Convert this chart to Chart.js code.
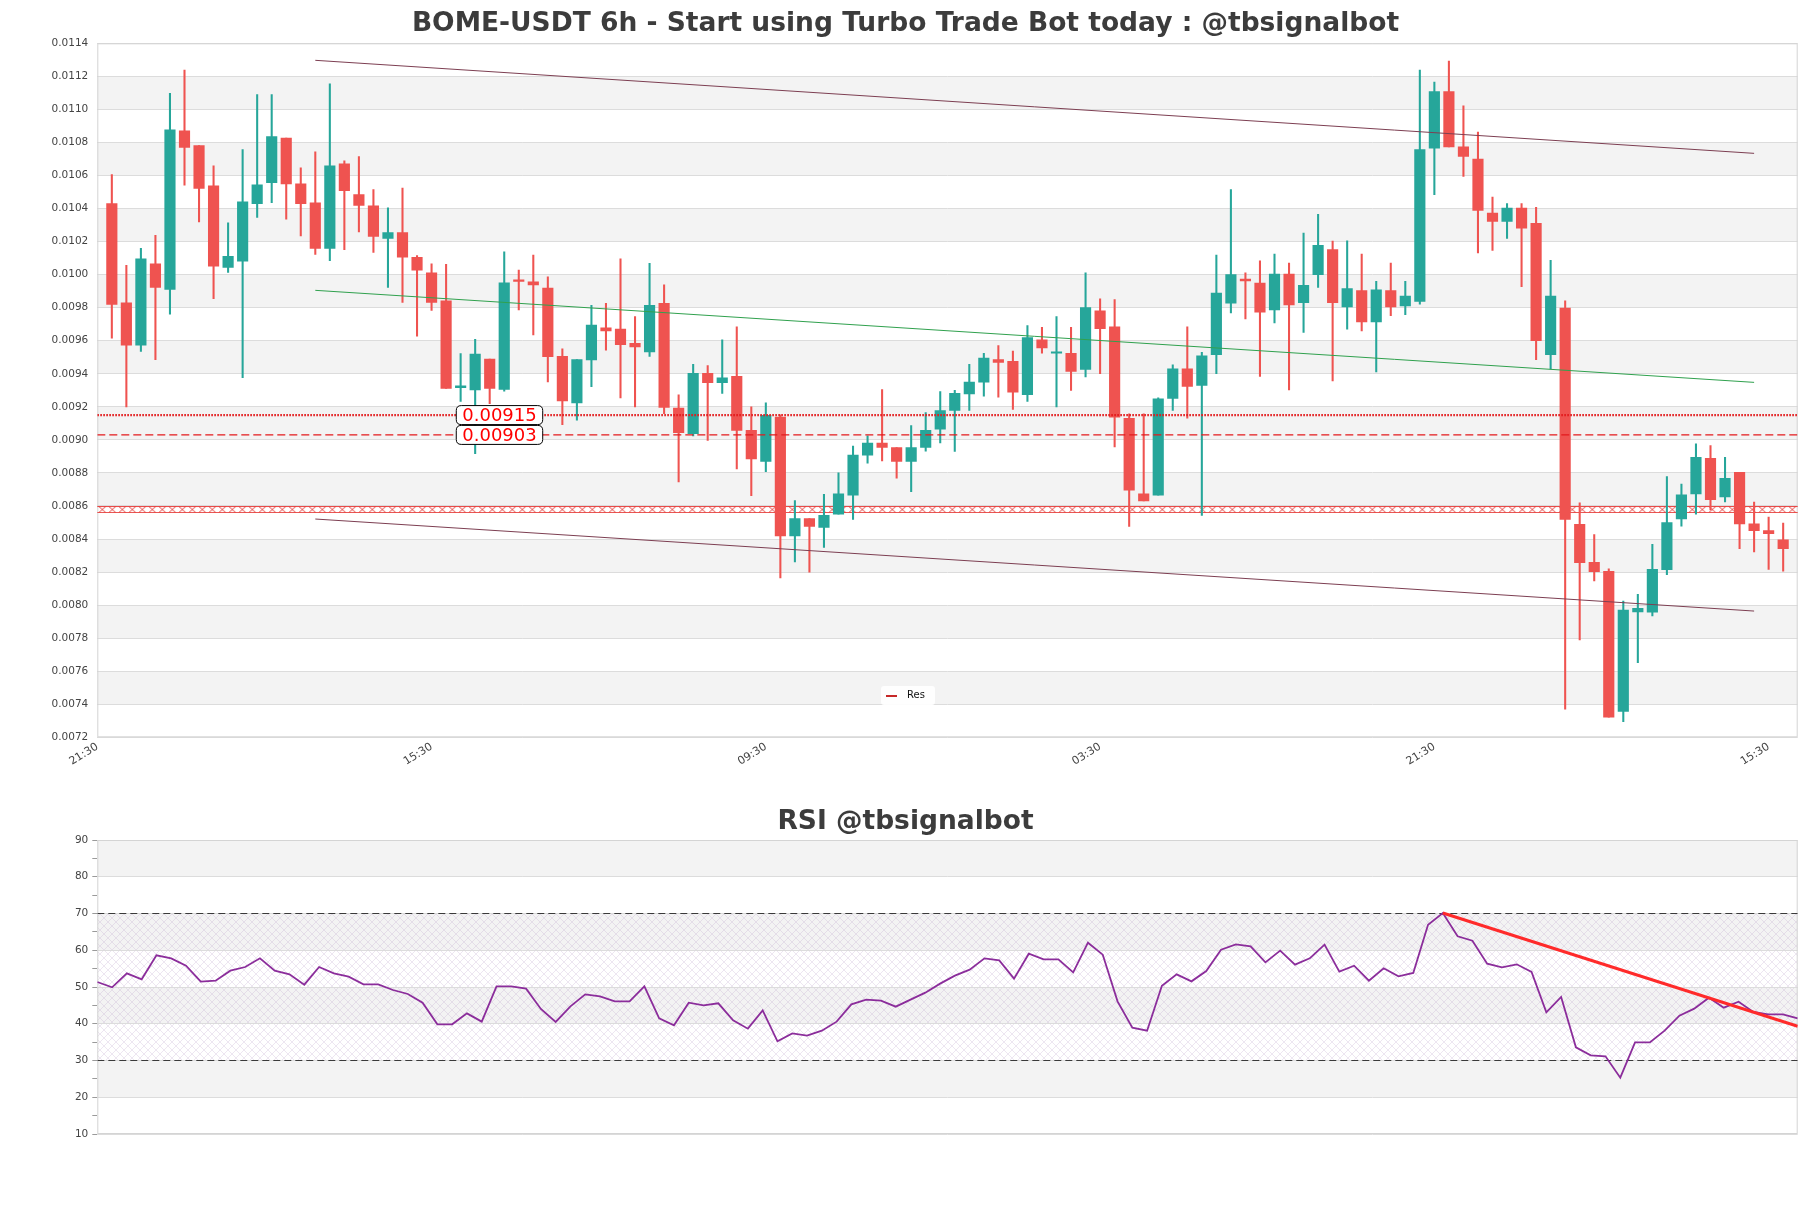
<!DOCTYPE html>
<html>
<head>
<meta charset="utf-8">
<script src="https://cdn.jsdelivr.net/npm/chart.js@4.4.1/dist/chart.umd.min.js"></script>
<style>
html,body{margin:0;padding:0;background:#ffffff;}
body{width:1811px;height:1208px;position:relative;overflow:hidden;}
#c1{position:absolute;left:0;top:0;}
#c2{position:absolute;left:0;top:790px;}
</style>
</head>
<body>
<canvas id="c1" width="1811" height="790"></canvas>
<canvas id="c2" width="1811" height="418"></canvas>
<script>
// ---------------- DATA ----------------
const chartTitle = 'BOME-USDT 6h - Start using Turbo Trade Bot today : @tbsignalbot';
const rsiTitle = 'RSI @tbsignalbot';

const xTickIdx = [-1, 22, 45, 68, 91, 114];
const xTickLabels = ['21:30', '15:30', '09:30', '03:30', '21:30', '15:30'];

const priceTicks = [0.0072,0.0074,0.0076,0.0078,0.0080,0.0082,0.0084,0.0086,0.0088,0.0090,0.0092,
  0.0094,0.0096,0.0098,0.0100,0.0102,0.0104,0.0106,0.0108,0.0110,0.0112,0.0114];
const rsiTicks = [10,15,20,25,30,35,40,45,50,55,60,65,70,75,80,85,90];

const openP = [0.010430,0.009830,0.009573,0.010065,0.009911,0.010870,0.010781,0.010538,0.010043,0.010081,
0.010430,0.010557,0.010827,0.010549,0.010435,0.010159,0.010670,0.010484,0.010416,0.010219,
0.010254,0.010105,0.010011,0.009841,0.009316,0.009303,0.009489,0.009305,0.009968,0.009957,
0.009919,0.009505,0.009224,0.009484,0.009678,0.009670,0.009584,0.009532,0.009827,0.009192,
0.009038,0.009403,0.009346,0.009384,0.009057,0.008870,0.009138,0.008419,0.008524,0.008470,
0.008551,0.008665,0.008908,0.008981,0.008954,0.008870,0.008954,0.009065,0.009178,0.009278,
0.009349,0.009486,0.009476,0.009273,0.009605,0.009524,0.009524,0.009427,0.009781,0.009684,
0.009130,0.008673,0.008665,0.009251,0.009430,0.009330,0.009516,0.009827,0.009973,0.009949,
0.009786,0.010003,0.009830,0.010000,0.010151,0.009805,0.009903,0.009714,0.009903,0.009811,
0.009838,0.010765,0.011108,0.010773,0.010700,0.010373,0.010322,0.010403,0.010311,0.009516,
0.009797,0.008489,0.008259,0.008205,0.007357,0.007959,0.007957,0.008214,0.008522,0.008673,
0.008889,0.008654,0.008803,0.008492,0.008451,0.008395];

const highP = [0.010605,0.010057,0.010159,0.010238,0.011097,0.011238,0.010781,0.010659,0.010314,0.010757,
0.011089,0.011089,0.010827,0.010646,0.010743,0.011154,0.010689,0.010714,0.010514,0.010405,
0.010524,0.010116,0.010065,0.010062,0.009522,0.009608,0.009489,0.010138,0.010027,0.010119,
0.009986,0.009551,0.009486,0.009814,0.009827,0.010095,0.009746,0.010068,0.009938,0.009273,
0.009457,0.009449,0.009605,0.009684,0.009200,0.009224,0.009151,0.008632,0.008524,0.008670,
0.008800,0.008962,0.009024,0.009305,0.008954,0.009086,0.009165,0.009292,0.009300,0.009457,
0.009524,0.009570,0.009538,0.009692,0.009681,0.009746,0.009681,0.010011,0.009854,0.009849,
0.009157,0.009157,0.009254,0.009454,0.009684,0.009530,0.010119,0.010514,0.010011,0.010084,
0.010124,0.010070,0.010251,0.010365,0.010203,0.010205,0.010124,0.009959,0.010070,0.009959,
0.011238,0.011165,0.011292,0.011022,0.010862,0.010470,0.010430,0.010430,0.010408,0.010086,
0.009841,0.008619,0.008427,0.008219,0.008024,0.008065,0.008368,0.008778,0.008732,0.008976,
0.008965,0.008895,0.008803,0.008624,0.008532,0.008497];

const lowP = [0.009616,0.009200,0.009535,0.009486,0.009760,0.010541,0.010319,0.009854,0.010014,0.009376,
0.010346,0.010435,0.010335,0.010235,0.010122,0.010084,0.010151,0.010259,0.010135,0.009922,
0.009832,0.009627,0.009784,0.009311,0.009232,0.008916,0.009219,0.009295,0.009786,0.009635,
0.009351,0.009092,0.009119,0.009322,0.009543,0.009254,0.009200,0.009505,0.009159,0.008746,
0.009024,0.008997,0.009281,0.008824,0.008662,0.008808,0.008165,0.008262,0.008200,0.008349,
0.008551,0.008519,0.008859,0.008873,0.008768,0.008686,0.008932,0.008981,0.008930,0.009178,
0.009265,0.009259,0.009184,0.009232,0.009524,0.009200,0.009300,0.009381,0.009400,0.008957,
0.008476,0.008630,0.008665,0.009178,0.009132,0.008543,0.009400,0.009768,0.009732,0.009384,
0.009708,0.009303,0.009651,0.009922,0.009357,0.009670,0.009659,0.009411,0.009751,0.009757,
0.009822,0.010484,0.010773,0.010595,0.010132,0.010146,0.010219,0.009927,0.009486,0.009430,
0.007370,0.007789,0.008146,0.007322,0.007295,0.007651,0.007935,0.008184,0.008478,0.008551,
0.008576,0.008624,0.008341,0.008322,0.008216,0.008205];

const closeP = [0.009819,0.009573,0.010095,0.009922,0.010876,0.010770,0.010522,0.010051,0.010111,0.010441,
0.010543,0.010835,0.010549,0.010430,0.010159,0.010659,0.010508,0.010419,0.010232,0.010254,
0.010105,0.010027,0.009832,0.009311,0.009327,0.009519,0.009311,0.009951,0.009959,0.009938,
0.009503,0.009235,0.009486,0.009695,0.009659,0.009576,0.009562,0.009814,0.009197,0.009043,
0.009403,0.009346,0.009376,0.009057,0.008884,0.009149,0.008419,0.008524,0.008476,0.008543,
0.008673,0.008908,0.008981,0.008954,0.008870,0.008954,0.009057,0.009178,0.009281,0.009349,
0.009495,0.009468,0.009289,0.009619,0.009557,0.009527,0.009414,0.009800,0.009673,0.009138,
0.008695,0.008630,0.009249,0.009430,0.009324,0.009508,0.009889,0.010000,0.009962,0.009773,
0.010003,0.009816,0.009935,0.010178,0.009830,0.009916,0.009714,0.009908,0.009805,0.009870,
0.010757,0.011108,0.010773,0.010716,0.010389,0.010322,0.010403,0.010281,0.009600,0.009870,
0.008519,0.008257,0.008203,0.007322,0.007970,0.007981,0.008216,0.008500,0.008668,0.008895,
0.008638,0.008768,0.008492,0.008451,0.008432,0.008341];

const rsiValues = [51.36,49.91,53.72,52.09,58.62,57.8,55.8,51.45,51.72,54.44,
55.44,57.8,54.44,53.45,50.63,55.44,53.72,52.81,50.73,50.73,
49.18,48.1,45.74,39.84,39.84,42.83,40.57,50.18,50.18,49.55,
44.01,40.48,44.74,48.0,47.46,46.1,46.1,50.18,41.47,39.57,
45.74,45.01,45.56,40.93,38.66,43.65,35.22,37.39,36.76,38.12,
40.57,45.28,46.55,46.28,44.65,46.55,48.46,50.91,53.08,54.72,
57.8,57.26,52.27,59.07,57.53,57.53,53.99,62.06,58.8,46.1,
38.93,38.12,50.36,53.45,51.54,54.35,60.16,61.6,61.07,56.71,
59.89,56.08,57.8,61.52,54.17,55.8,51.72,55.08,52.9,53.81,
66.96,70.14,63.79,62.61,56.35,55.35,56.17,54.08,43.11,47.28,
33.58,31.41,31.13,25.33,34.94,34.94,38.12,42.2,44.1,47.1,
44.38,46.01,43.2,42.56,42.56,41.47];

// channel trend lines (index of start / end candle, and price at each end)
const channelX = [14, 113];
const channelUpper = [0.011297, 0.010734];
const channelMid = [0.009905, 0.009348];
const channelLower = [0.008521, 0.007964];

// horizontal price levels
const levelSpan = [-1, 116];
const levelDotted = 0.00915;
const levelDashed = 0.00903;
const levelRes = 0.008576;

// RSI levels and trend
const rsiUpper = 70, rsiLower = 30;
const rsiSpan = [0, 115];
const rsiTrendX = [91, 115];
const rsiTrendY = [70.14, 39.3];

// ---------------- STYLE ----------------
const FONT = 'DejaVu Sans';
const UP = '#26a69a', DOWN = '#ef5350';
const TXT = '#444444';
const GRID = '#dcdcdc';
const BAND = '#f3f3f3';

const idx = openP.map((_, i) => i);
const candleColors = idx.map(i => closeP[i] >= openP[i] ? UP : DOWN);

function makeXPattern(ctx) {
  const c = document.createElement('canvas');
  c.width = 10; c.height = 7;
  const g = c.getContext('2d');
  g.strokeStyle = '#e53935'; g.lineWidth = 0.9;
  g.beginPath();
  g.moveTo(0, 0.5); g.lineTo(10, 0.5);
  g.moveTo(0, 6.5); g.lineTo(10, 6.5);
  g.moveTo(1.5, 0.5); g.lineTo(8.5, 6.5);
  g.moveTo(1.5, 6.5); g.lineTo(8.5, 0.5);
  g.stroke();
  return ctx.createPattern(c, 'repeat');
}
function makeHatch(ctx) {
  const c = document.createElement('canvas');
  c.width = 8; c.height = 8;
  const g = c.getContext('2d');
  g.strokeStyle = 'rgba(185,160,200,0.26)'; g.lineWidth = 1;
  g.beginPath();
  g.moveTo(0, 0); g.lineTo(8, 8);
  g.moveTo(8, 0); g.lineTo(0, 8);
  g.stroke();
  return ctx.createPattern(c, 'repeat');
}

function roundRect(ctx, x, y, w, h, r) {
  ctx.beginPath();
  ctx.moveTo(x + r, y);
  ctx.lineTo(x + w - r, y); ctx.quadraticCurveTo(x + w, y, x + w, y + r);
  ctx.lineTo(x + w, y + h - r); ctx.quadraticCurveTo(x + w, y + h, x + w - r, y + h);
  ctx.lineTo(x + r, y + h); ctx.quadraticCurveTo(x, y + h, x, y + h - r);
  ctx.lineTo(x, y + r); ctx.quadraticCurveTo(x, y, x + r, y);
  ctx.closePath();
}

// ---------------- PRICE CHART ----------------
const pricePlugin = {
  id: 'pricePlugin',
  beforeDraw(chart) {
    const { ctx, chartArea: a, scales: { y } } = chart;
    ctx.save();
    ctx.fillStyle = '#ffffff';
    ctx.fillRect(0, 0, chart.width, chart.height);
    ctx.fillStyle = BAND;
    for (let k = 0; k < priceTicks.length - 1; k++) {
      if (k % 2 === 1) {
        const y1 = y.getPixelForValue(priceTicks[k + 1]);
        const y0 = y.getPixelForValue(priceTicks[k]);
        ctx.fillRect(a.left, y1, a.right - a.left, y0 - y1);
      }
    }
    ctx.restore();
  },
  beforeDatasetsDraw(chart) {
    const { ctx, chartArea: a } = chart;
    ctx.save();
    ctx.strokeStyle = '#d4d4d4'; ctx.lineWidth = 1;
    ctx.strokeRect(a.left + 0.5, a.top + 0.5, a.right - a.left - 1, a.bottom - a.top - 1);
    // X-hatched resistance band
    const { x, y } = chart.scales;
    const yp = y.getPixelForValue(levelRes);
    const xl = x.getPixelForValue(levelSpan[0]), xr = x.getPixelForValue(levelSpan[1]);
    const pat = makeXPattern(ctx);
    ctx.translate(xl, Math.round(yp - 3.5));
    ctx.fillStyle = pat;
    ctx.fillRect(0, 0, xr - xl, 7);
    ctx.restore();
  },
  afterDatasetsDraw(chart) {
    const { ctx, scales: { x, y } } = chart;
    ctx.save();
    ctx.font = '18px "' + FONT + '"';
    ctx.textBaseline = 'middle';
    [levelDotted, levelDashed].forEach(v => {
      const txt = v.toFixed(5);
      const w = ctx.measureText(txt).width + 12;
      const h = 19;
      const xl = x.getPixelForValue(23.7);
      const yc = y.getPixelForValue(v);
      roundRect(ctx, xl, yc - h / 2, w, h, 5);
      ctx.fillStyle = '#ffffff'; ctx.fill();
      ctx.strokeStyle = '#000000'; ctx.lineWidth = 1; ctx.stroke();
      ctx.fillStyle = '#ff0000';
      ctx.fillText(txt, xl + 6, yc + 1);
    });
    // legend "Res"
    const lx = 881, ly = 686;
    roundRect(ctx, lx, ly, 54, 19, 3);
    ctx.fillStyle = 'rgba(255,255,255,0.9)'; ctx.fill();
    ctx.strokeStyle = '#c62828'; ctx.lineWidth = 2;
    ctx.beginPath(); ctx.moveTo(lx + 5, ly + 10); ctx.lineTo(lx + 16, ly + 10); ctx.stroke();
    ctx.fillStyle = '#111111';
    ctx.font = '10px "' + FONT + '"';
    ctx.fillText('Res', lx + 26, ly + 9.5);
    ctx.restore();
  }
};

const lineDs = (xs, ys, color, width, dash, order) => ({
  type: 'line',
  data: xs.map((xv, k) => ({ x: xv, y: ys[k] })),
  borderColor: color, borderWidth: width, borderDash: dash || [],
  pointRadius: 0, fill: false, tension: 0, order: order
});

new Chart(document.getElementById('c1'), {
  type: 'bar',
  data: {
    datasets: [
      { type: 'bar', label: 'wick', data: idx.map(i => ({ x: i, y: [lowP[i], highP[i]] })),
        backgroundColor: candleColors, barThickness: 1.4, grouped: false, borderWidth: 0, order: 6 },
      { type: 'bar', label: 'body', data: idx.map(i => ({ x: i, y: [openP[i], closeP[i]] })),
        backgroundColor: candleColors, barThickness: 10.5, minBarLength: 1.5, grouped: false, borderWidth: 0, order: 5 },
      lineDs(levelSpan, [levelDotted, levelDotted], '#e31a1c', 2.4, [1.6, 1.4], 4),
      lineDs(levelSpan, [levelDashed, levelDashed], '#e31a1c', 1.2, [8, 4], 4),
      lineDs(channelX, channelUpper, '#7d3f52', 1, null, 3),
      lineDs(channelX, channelLower, '#7d3f52', 1, null, 3),
      lineDs(channelX, channelMid, '#30a14e', 1, null, 3)
    ]
  },
  options: {
    responsive: false, animation: false, devicePixelRatio: 1,
    layout: { padding: { left: 13.3, right: 13.3, top: 0, bottom: 0 } },
    plugins: {
      legend: { display: false }, tooltip: { enabled: false },
      title: { display: true, text: chartTitle, color: '#3c3c3c',
        font: { family: FONT, size: 26.5, weight: 'bold', lineHeight: 1.2 },
        padding: { top: 8, bottom: 3.5 } }
    },
    scales: {
      x: {
        type: 'linear', min: -1, max: 116, offset: false,
        grid: { display: false, drawTicks: false }, border: { display: false },
        afterBuildTicks: s => { s.ticks = xTickIdx.map(v => ({ value: v })); },
        afterFit: s => { s.height = 52.7; },
        ticks: { autoSkip: false, minRotation: 32, maxRotation: 32, padding: 3, color: TXT,
          font: { family: FONT, size: 11 },
          callback: (v, i) => xTickLabels[i] }
      },
      y: {
        type: 'linear', min: 0.0072, max: 0.0114,
        grid: { color: GRID, drawTicks: false, lineWidth: 1 }, border: { display: false },
        afterBuildTicks: s => { s.ticks = priceTicks.map(v => ({ value: v })); },
        afterFit: s => { s.width = 84; },
        ticks: { padding: 9, color: TXT, font: { family: FONT, size: 10.5 },
          callback: v => Number(v).toFixed(4) }
      }
    }
  },
  plugins: [pricePlugin]
});

// ---------------- RSI CHART ----------------
const rsiPlugin = {
  id: 'rsiPlugin',
  beforeDraw(chart) {
    const { ctx, chartArea: a, scales: { y } } = chart;
    ctx.save();
    ctx.fillStyle = '#ffffff';
    ctx.fillRect(0, 0, chart.width, chart.height);
    const tens = rsiTicks.filter(v => v % 10 === 0);
    ctx.fillStyle = BAND;
    for (let k = 0; k < tens.length - 1; k++) {
      if (k % 2 === 1) {
        const y1 = y.getPixelForValue(tens[k + 1]);
        const y0 = y.getPixelForValue(tens[k]);
        ctx.fillRect(a.left, y1, a.right - a.left, y0 - y1);
      }
    }
    const yt = y.getPixelForValue(rsiUpper), yb = y.getPixelForValue(rsiLower);
    ctx.fillStyle = makeHatch(ctx);
    ctx.fillRect(a.left, yt, a.right - a.left, yb - yt);
    ctx.restore();
  },
  beforeDatasetsDraw(chart) {
    const { ctx, chartArea: a } = chart;
    ctx.save();
    ctx.strokeStyle = '#d4d4d4'; ctx.lineWidth = 1;
    ctx.strokeRect(a.left + 0.5, a.top + 0.5, a.right - a.left - 1, a.bottom - a.top - 1);
    ctx.restore();
  }
};

new Chart(document.getElementById('c2'), {
  type: 'line',
  data: {
    datasets: [
      lineDs(rsiSpan, [rsiUpper, rsiUpper], '#3a3a3a', 1.2, [7, 4], 3),
      lineDs(rsiSpan, [rsiLower, rsiLower], '#3a3a3a', 1.2, [7, 4], 3),
      lineDs(idx, rsiValues, '#8b2d9b', 1.8, null, 2),
      lineDs(rsiTrendX, rsiTrendY, '#ff2a2a', 3, null, 1)
    ]
  },
  options: {
    responsive: false, animation: false, devicePixelRatio: 1,
    layout: { padding: { left: 13.3, right: 13.3, top: 0, bottom: 0 } },
    plugins: {
      legend: { display: false }, tooltip: { enabled: false },
      title: { display: true, text: rsiTitle, color: '#3c3c3c',
        font: { family: FONT, size: 26.5, weight: 'bold', lineHeight: 1.2 },
        padding: { top: 16, bottom: 2.2 } }
    },
    scales: {
      x: {
        type: 'linear', min: 0, max: 115, offset: false,
        grid: { display: false, drawTicks: false }, border: { display: false },
        ticks: { display: false },
        afterFit: s => { s.height = 74; }
      },
      y: {
        type: 'linear', min: 10, max: 90,
        grid: {
          color: c => (c.tick && c.tick.value % 10 === 0) ? GRID : 'rgba(0,0,0,0)',
          tickColor: '#9a9a9a', tickLength: 5, drawTicks: true, lineWidth: 1
        },
        border: { display: false },
        afterBuildTicks: s => { s.ticks = rsiTicks.map(v => ({ value: v })); },
        afterFit: s => { s.width = 84; },
        ticks: { padding: 4, color: TXT, font: { family: FONT, size: 10.5 },
          callback: v => (v % 10 === 0 ? String(v) : '') }
      }
    }
  },
  plugins: [rsiPlugin]
});
</script>
</body>
</html>
